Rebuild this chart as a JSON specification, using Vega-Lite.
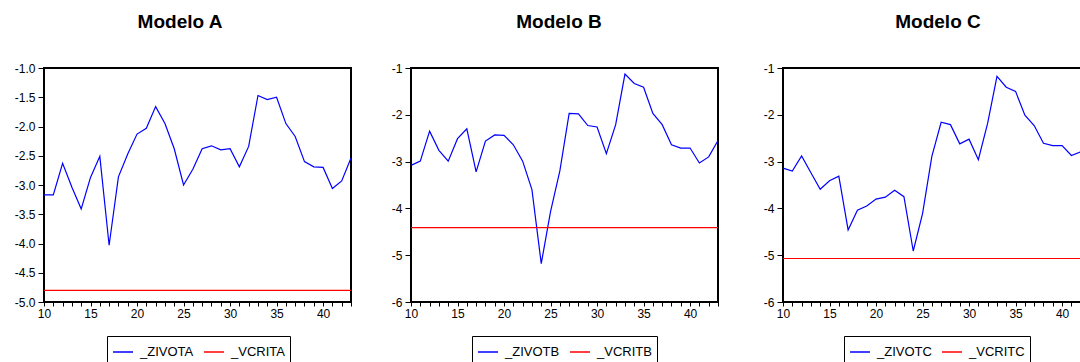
{
  "$schema": "https://vega.github.io/schema/vega-lite/v6.json",
  "background": "white",
  "padding": {"left": 0, "top": 12, "right": 0, "bottom": 0},
  "spacing": 17,
  "datasets": {
    "A": [{"t":10,"v":-3.17},{"t":11,"v":-3.17},{"t":12,"v":-2.63},{"t":13,"v":-3.04},{"t":14,"v":-3.41},{"t":15,"v":-2.87},{"t":16,"v":-2.51},{"t":17,"v":-4.03},{"t":18,"v":-2.86},{"t":19,"v":-2.47},{"t":20,"v":-2.13},{"t":21,"v":-2.03},{"t":22,"v":-1.66},{"t":23,"v":-1.95},{"t":24,"v":-2.38},{"t":25,"v":-3.00},{"t":26,"v":-2.73},{"t":27,"v":-2.38},{"t":28,"v":-2.33},{"t":29,"v":-2.40},{"t":30,"v":-2.38},{"t":31,"v":-2.69},{"t":32,"v":-2.34},{"t":33,"v":-1.47},{"t":34,"v":-1.54},{"t":35,"v":-1.50},{"t":36,"v":-1.95},{"t":37,"v":-2.17},{"t":38,"v":-2.60},{"t":39,"v":-2.69},{"t":40,"v":-2.70},{"t":41,"v":-3.06},{"t":42,"v":-2.93},{"t":43,"v":-2.54}],
    "B": [{"t":10,"v":-3.08},{"t":11,"v":-2.99},{"t":12,"v":-2.35},{"t":13,"v":-2.76},{"t":14,"v":-2.99},{"t":15,"v":-2.51},{"t":16,"v":-2.30},{"t":17,"v":-3.22},{"t":18,"v":-2.56},{"t":19,"v":-2.43},{"t":20,"v":-2.44},{"t":21,"v":-2.64},{"t":22,"v":-2.99},{"t":23,"v":-3.60},{"t":24,"v":-5.18},{"t":25,"v":-4.07},{"t":26,"v":-3.20},{"t":27,"v":-1.97},{"t":28,"v":-1.98},{"t":29,"v":-2.23},{"t":30,"v":-2.26},{"t":31,"v":-2.83},{"t":32,"v":-2.21},{"t":33,"v":-1.13},{"t":34,"v":-1.33},{"t":35,"v":-1.41},{"t":36,"v":-1.97},{"t":37,"v":-2.21},{"t":38,"v":-2.64},{"t":39,"v":-2.71},{"t":40,"v":-2.71},{"t":41,"v":-3.03},{"t":42,"v":-2.90},{"t":43,"v":-2.55}],
    "C": [{"t":10,"v":-3.14},{"t":11,"v":-3.20},{"t":12,"v":-2.88},{"t":13,"v":-3.24},{"t":14,"v":-3.59},{"t":15,"v":-3.41},{"t":16,"v":-3.31},{"t":17,"v":-4.46},{"t":18,"v":-4.04},{"t":19,"v":-3.95},{"t":20,"v":-3.80},{"t":21,"v":-3.76},{"t":22,"v":-3.61},{"t":23,"v":-3.75},{"t":24,"v":-4.91},{"t":25,"v":-4.11},{"t":26,"v":-2.89},{"t":27,"v":-2.16},{"t":28,"v":-2.21},{"t":29,"v":-2.62},{"t":30,"v":-2.52},{"t":31,"v":-2.96},{"t":32,"v":-2.18},{"t":33,"v":-1.18},{"t":34,"v":-1.41},{"t":35,"v":-1.50},{"t":36,"v":-2.01},{"t":37,"v":-2.23},{"t":38,"v":-2.61},{"t":39,"v":-2.66},{"t":40,"v":-2.66},{"t":41,"v":-2.87},{"t":42,"v":-2.79},{"t":43,"v":-2.52}],
    "critA": [{"v": -4.80}],
    "critB": [{"v": -4.41}],
    "critC": [{"v": -5.07}]
  },
  "resolve": {"scale": {"x": "independent", "y": "independent", "color": "independent"}},
  "hconcat": [
    {
      "width": 307, "height": 234,
      "title": {"text": "Modelo A", "dx": -17.5},
      "layer": [
        {
          "data": {"name": "A"},
          "mark": {"type": "line", "strokeWidth": 1.2},
          "encoding": {
            "x": {"field": "t", "type": "quantitative", "title": null,
                  "scale": {"domain": [10, 43], "nice": false, "zero": false},
                  "axis": {"values": [10,11,12,13,14,15,16,17,18,19,20,21,22,23,24,25,26,27,28,29,30,31,32,33,34,35,36,37,38,39,40,41,42,43],
                           "labelExpr": "datum.value % 5 == 0 ? datum.label : ''", "tickSize": 4, "labelPadding": 2}},
            "y": {"field": "v", "type": "quantitative", "title": null,
                  "scale": {"domain": [-5, -1], "nice": false, "zero": false},
                  "axis": {"values": [-5,-4.5,-4,-3.5,-3,-2.5,-2,-1.5,-1], "tickCount": 9, "labelOverlap": false, "labelBound": false,
                           "labelExpr": "replace(format(datum.value,'.1f'),'\u2212','-')",
                           "labelDy": -2, "tickSize": 6, "labelPadding": 3, "minExtent": 43}},
            "color": {"datum": "_ZIVOTA",
                      "scale": {"domain": ["_ZIVOTA", "_VCRITA"], "range": ["#0000ff", "#ff0000"]},
                      "legend": {"title": null, "orient": "none", "legendX": 63, "legendY": 268, "direction": "horizontal",
                                 "symbolType": "stroke", "symbolSize": 400, "symbolStrokeWidth": 1.5,
                                 "labelFont": "Liberation Sans", "labelFontSize": 13, "labelColor": "black",
                                 "strokeColor": "black", "fillColor": "white", "padding": 5, "columnPadding": 7, "labelOffset": 6}}
          }
        },
        {
          "data": {"name": "critA"},
          "mark": {"type": "rule", "strokeWidth": 1.2},
          "encoding": {
            "y": {"field": "v", "type": "quantitative", "title": null,
                  "axis": {"values": [-5,-4.5,-4,-3.5,-3,-2.5,-2,-1.5,-1], "tickCount": 9, "labelOverlap": false, "labelBound": false,
                           "labelExpr": "replace(format(datum.value,'.1f'),'\u2212','-')",
                           "labelDy": -2, "tickSize": 6, "labelPadding": 3, "minExtent": 43}},
            "color": {"datum": "_VCRITA", "scale": {"domain": ["_ZIVOTA", "_VCRITA"], "range": ["#0000ff", "#ff0000"]}}
          }
        }
      ]
    },
    {
      "width": 307, "height": 234,
      "title": {"text": "Modelo B", "dx": -5.5},
      "layer": [
        {
          "data": {"name": "B"},
          "mark": {"type": "line", "strokeWidth": 1.2},
          "encoding": {
            "x": {"field": "t", "type": "quantitative", "title": null,
                  "scale": {"domain": [10, 43], "nice": false, "zero": false},
                  "axis": {"values": [10,11,12,13,14,15,16,17,18,19,20,21,22,23,24,25,26,27,28,29,30,31,32,33,34,35,36,37,38,39,40,41,42,43],
                           "labelExpr": "datum.value % 5 == 0 ? datum.label : ''", "tickSize": 4, "labelPadding": 2}},
            "y": {"field": "v", "type": "quantitative", "title": null,
                  "scale": {"domain": [-6, -1], "nice": false, "zero": false},
                  "axis": {"values": [-6,-5,-4,-3,-2,-1],
                           "labelExpr": "replace(format(datum.value,'d'),'\u2212','-')",
                           "labelDy": -2, "tickSize": 6, "labelPadding": 3, "minExtent": 38}},
            "color": {"datum": "_ZIVOTB",
                      "scale": {"domain": ["_ZIVOTB", "_VCRITB"], "range": ["#0000ff", "#ff0000"]},
                      "legend": {"title": null, "orient": "none", "legendX": 61, "legendY": 268, "direction": "horizontal",
                                 "symbolType": "stroke", "symbolSize": 400, "symbolStrokeWidth": 1.5,
                                 "labelFont": "Liberation Sans", "labelFontSize": 13, "labelColor": "black",
                                 "strokeColor": "black", "fillColor": "white", "padding": 5, "columnPadding": 7, "labelOffset": 6}}
          }
        },
        {
          "data": {"name": "critB"},
          "mark": {"type": "rule", "strokeWidth": 1.2},
          "encoding": {
            "y": {"field": "v", "type": "quantitative"},
            "color": {"datum": "_VCRITB", "scale": {"domain": ["_ZIVOTB", "_VCRITB"], "range": ["#0000ff", "#ff0000"]}}
          }
        }
      ]
    },
    {
      "width": 307, "height": 234,
      "title": {"text": "Modelo C", "dx": 1.5},
      "layer": [
        {
          "data": {"name": "C"},
          "mark": {"type": "line", "strokeWidth": 1.2},
          "encoding": {
            "x": {"field": "t", "type": "quantitative", "title": null,
                  "scale": {"domain": [10, 43], "nice": false, "zero": false},
                  "axis": {"values": [10,11,12,13,14,15,16,17,18,19,20,21,22,23,24,25,26,27,28,29,30,31,32,33,34,35,36,37,38,39,40,41,42,43],
                           "labelExpr": "datum.value % 5 == 0 ? datum.label : ''", "tickSize": 4, "labelPadding": 2}},
            "y": {"field": "v", "type": "quantitative", "title": null,
                  "scale": {"domain": [-6, -1], "nice": false, "zero": false},
                  "axis": {"values": [-6,-5,-4,-3,-2,-1],
                           "labelExpr": "replace(format(datum.value,'d'),'\u2212','-')",
                           "labelDy": -2, "tickSize": 6, "labelPadding": 3, "minExtent": 43}},
            "color": {"datum": "_ZIVOTC",
                      "scale": {"domain": ["_ZIVOTC", "_VCRITC"], "range": ["#0000ff", "#ff0000"]},
                      "legend": {"title": null, "orient": "none", "legendX": 61, "legendY": 268, "direction": "horizontal",
                                 "symbolType": "stroke", "symbolSize": 400, "symbolStrokeWidth": 1.5,
                                 "labelFont": "Liberation Sans", "labelFontSize": 13, "labelColor": "black",
                                 "strokeColor": "black", "fillColor": "white", "padding": 5, "columnPadding": 7, "labelOffset": 6}}
          }
        },
        {
          "data": {"name": "critC"},
          "mark": {"type": "rule", "strokeWidth": 1.2},
          "encoding": {
            "y": {"field": "v", "type": "quantitative"},
            "color": {"datum": "_VCRITC", "scale": {"domain": ["_ZIVOTC", "_VCRITC"], "range": ["#0000ff", "#ff0000"]}}
          }
        }
      ]
    }
  ],
  "config": {
    "view": {"stroke": "black", "strokeWidth": 2},
    "axis": {"grid": false, "domain": false, "tickColor": "black", "labelColor": "black", "labelFont": "Liberation Sans",
             "labelFontSize": 12, "labelFlush": false, "labelOverlap": false},
    "title": {"font": "Liberation Sans", "fontSize": 19, "fontWeight": "bold", "color": "black", "frame": "group",
              "baseline": "top", "offset": 30, "anchor": "middle"}
  }
}
